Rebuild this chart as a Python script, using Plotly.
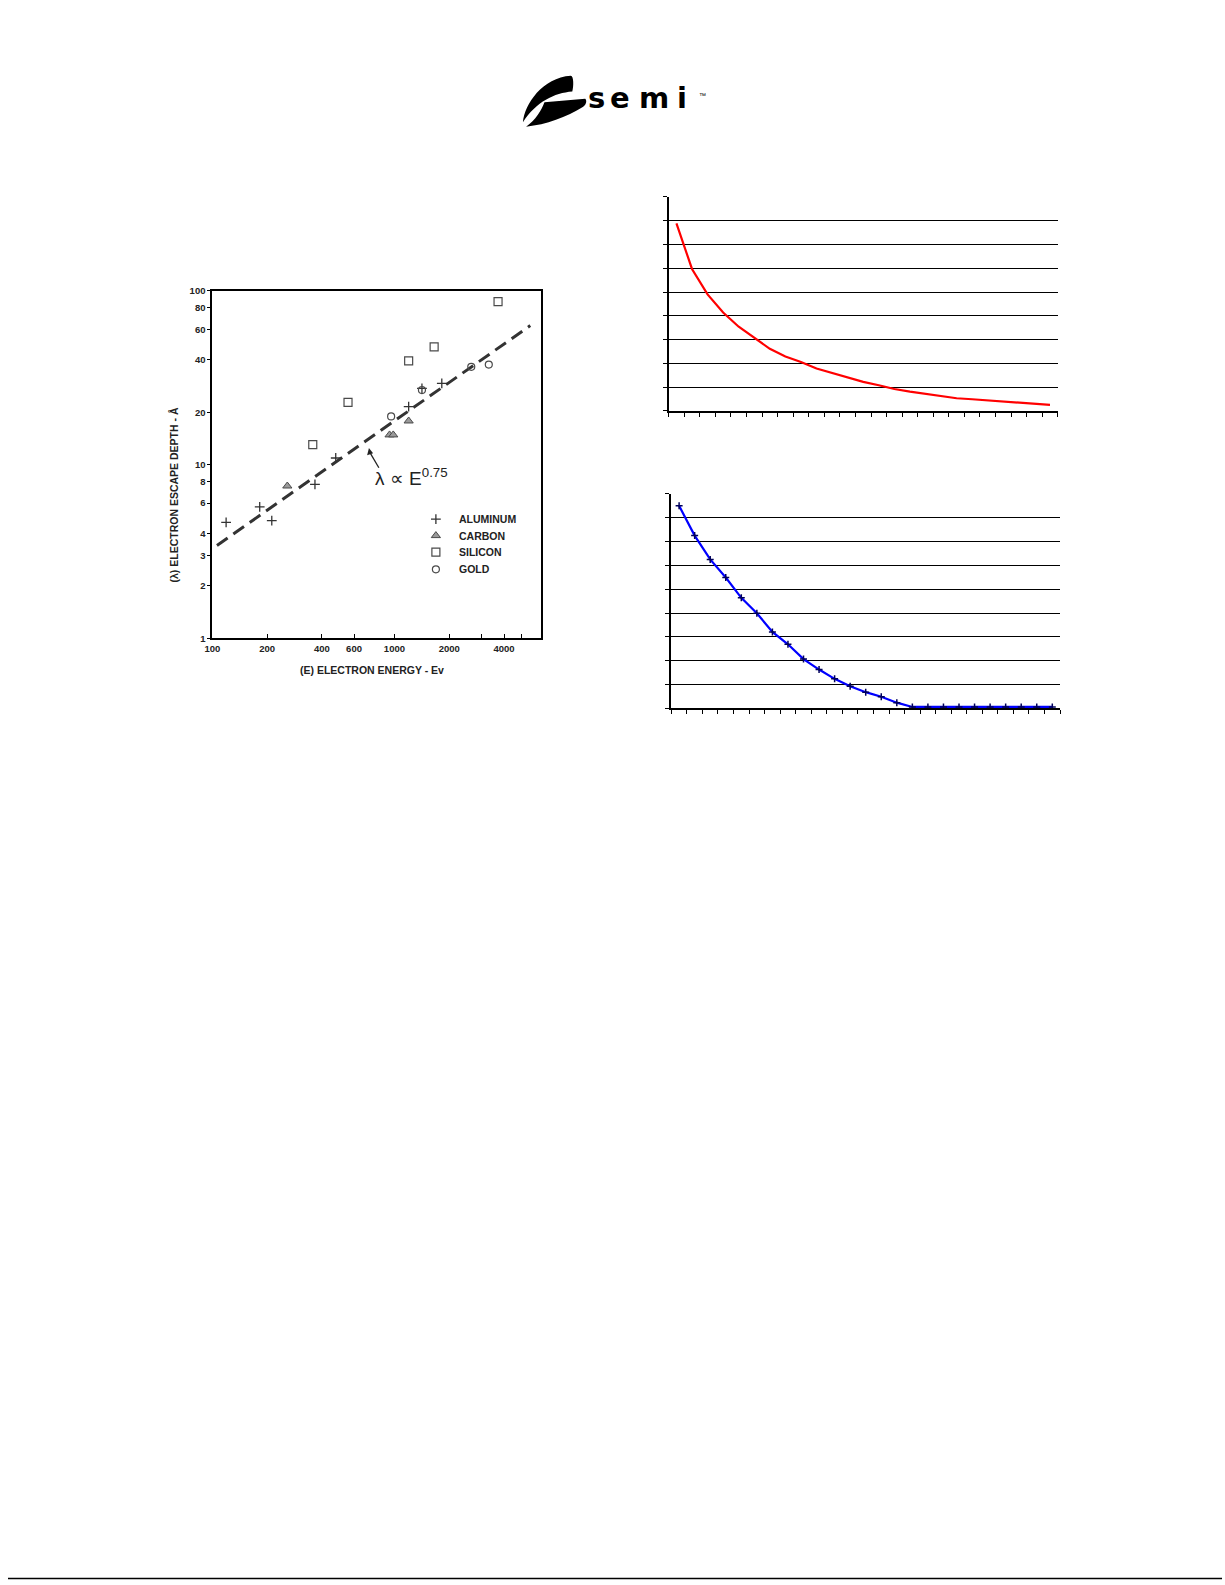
import plotly.graph_objects as go

W, H = 1225, 1585

# ---------------- Left chart data (log-log) ----------------
al_energy = [119, 182, 212, 366, 476, 1197, 1416, 1820]
al_depth = [4.64, 5.71, 4.75, 7.69, 10.9, 21.5, 27.4, 29.3]
c_energy = [258, 940, 985, 1197]
c_depth = [7.52, 14.8, 14.8, 17.8]
si_energy = [356, 556, 1197, 1652, 3707]
si_depth = [13.0, 22.8, 39.5, 47.5, 86.5]
au_energy = [959, 1416, 2642, 3298]
au_depth = [18.9, 26.8, 36.5, 37.6]
fit_energy = [106, 5570]
fit_depth = [3.42, 63]

legend_names = ["ALUMINUM", "CARBON", "SILICON", "GOLD"]

x_tickvals = [100, 200, 400, 600, 1000, 2000, 4000]
x_ticktext = ["100", "200", "400", "600", "1000", "2000", "4000"]
x_minor_ticks = [3000, 5000]
y_tickvals = [1, 2, 3, 4, 6, 8, 10, 20, 40, 60, 80, 100]
y_ticktext = ["1", "2", "3", "4", "6", "8", "10", "20", "40", "60", "80", "100"]

# ---------------- Right charts data ----------------
categories = list(range(1, 26))
red_values = [7.89, 5.97, 4.90, 4.14, 3.54, 3.07, 2.61, 2.29, 2.06, 1.78,
              1.60, 1.43, 1.22, 1.08, 0.92, 0.81, 0.71, 0.63, 0.53, 0.49,
              0.44, 0.40, 0.36, 0.32, 0.25]
blue_values = [8.50, 7.25, 6.25, 5.49, 4.64, 3.99, 3.21, 2.69, 2.07, 1.63,
               1.24, 0.93, 0.68, 0.49, 0.24, 0.06, 0.06, 0.06, 0.06, 0.06,
               0.06, 0.06, 0.06, 0.06, 0.06]


def px(x):
    return x / W


def py(y):
    return 1 - y / H


def path(cmds):
    out = []
    for c in cmds:
        if isinstance(c, str):
            out.append(c)
        else:
            out.append(f"{px(c[0]):.5f},{py(c[1]):.5f}")
    return " ".join(out)


fig = go.Figure()
mark_col = "#4a4a4a"
FAM = "Liberation Sans, Arial, sans-serif"
tick_font = dict(family=FAM, size=9.5, color="#222", weight=700)

marker_styles = [
    dict(symbol="cross-thin-open", size=7, color="#333", line=dict(color="#333", width=1.3)),
    dict(symbol="triangle-up", size=8, color="#9a9a9a", line=dict(color=mark_col, width=1)),
    dict(symbol="square-open", size=8, color=mark_col, line=dict(color=mark_col, width=1.2)),
    dict(symbol="circle-open", size=7, color=mark_col, line=dict(color=mark_col, width=1.2)),
]

fig.add_trace(go.Scatter(x=fit_energy, y=fit_depth, mode="lines",
                         line=dict(color="#333", width=3, dash="13px,7px"),
                         xaxis="x", yaxis="y", hoverinfo="skip"))
for name, ex, dy, ms in zip(legend_names, [al_energy, c_energy, si_energy, au_energy],
                            [al_depth, c_depth, si_depth, au_depth], marker_styles):
    fig.add_trace(go.Scatter(x=ex, y=dy, mode="markers", name=name, marker=ms,
                             xaxis="x", yaxis="y"))

# legend key (drawn in a page-pixel overlay axis)
legend_x_sym = 430.7
legend_x_text = 451.7
legend_rows = [516.7, 533.3, 550.0, 567.3]
for name, ry, ms in zip(legend_names, legend_rows, marker_styles):
    fig.add_trace(go.Scatter(x=[legend_x_sym], y=[ry], mode="markers", marker=ms,
                             name=name, xaxis="x4", yaxis="y4", hoverinfo="skip"))

fig.add_trace(go.Scatter(x=categories, y=red_values, mode="lines",
                         line=dict(color="#ff0000", width=2.2),
                         xaxis="x2", yaxis="y2"))
fig.add_trace(go.Scatter(x=categories, y=blue_values, mode="lines+markers",
                         line=dict(color="#0000ff", width=2.2),
                         marker=dict(symbol="cross-thin-open", size=5, color="#00005a",
                                     line=dict(color="#00005a", width=1.5)),
                         xaxis="x3", yaxis="y3"))

boundaries = [c - 0.5 for c in categories] + [categories[-1] + 0.5]

right_x = dict(range=[0.5, 25.5], tickvals=boundaries, ticks="outside", ticklen=4,
               tickwidth=1.3, tickcolor="black", showticklabels=False, showline=True,
               linecolor="black", linewidth=2, showgrid=False, zeroline=False)
right_y = dict(range=[0, 9], dtick=1, tick0=0, ticks="outside", ticklen=4, tickwidth=1.3,
               tickcolor="black", showticklabels=False, showline=True, linecolor="black",
               linewidth=2, showgrid=True, gridcolor="black", gridwidth=1.3, zeroline=False)

fig.update_layout(
    width=W, height=H, margin=dict(l=0, r=0, t=0, b=0),
    paper_bgcolor="white", plot_bgcolor="rgba(0,0,0,0)",
    showlegend=False,
    xaxis=dict(type="log", range=[2, 3.806], domain=[px(205.7), px(536.7)],
               anchor="y", tickvals=x_tickvals, ticktext=x_ticktext,
               ticks="inside", ticklen=4, tickcolor="black", tickfont=tick_font,
               minor=dict(tickvals=x_minor_ticks, ticks="inside", ticklen=4,
                          tickcolor="black", showgrid=False),
               showline=True, mirror=True, linecolor="black", linewidth=2,
               showgrid=False, zeroline=False),
    yaxis=dict(type="log", range=[0, 2], domain=[py(636.7), py(286.7)],
               anchor="x", tickvals=y_tickvals, ticktext=y_ticktext,
               ticks="outside", ticklen=3, tickcolor="black", tickfont=tick_font,
               showline=True, mirror=True, linecolor="black", linewidth=2,
               showgrid=False, zeroline=False),
    xaxis2=dict(domain=[px(665), px(1056.7)], anchor="y2", **right_x),
    yaxis2=dict(domain=[py(407.7), py(192.3)], anchor="x2", **right_y),
    xaxis3=dict(domain=[px(667.7), px(1059)], anchor="y3", **right_x),
    yaxis3=dict(domain=[py(707.3), py(491.3)], anchor="x3", **right_y),
    xaxis4=dict(domain=[0, 1], range=[0, W], visible=False, anchor="y4", fixedrange=True),
    yaxis4=dict(domain=[0, 1], range=[H, 0], visible=False, anchor="x4", fixedrange=True),
)

label_font = dict(family=FAM, size=10.5, color="#222", weight=700)
annotations = [
    dict(text="(λ) ELECTRON ESCAPE DEPTH - Å", x=px(167), y=py(492), textangle=-90,
         showarrow=False, xref="paper", yref="paper", xanchor="center", yanchor="middle",
         font=label_font),
    dict(text="(E) ELECTRON ENERGY - Ev", x=px(366), y=py(669), showarrow=False,
         xref="paper", yref="paper", xanchor="center", yanchor="middle",
         font=label_font),
    dict(text="λ ∝ E<sup>0.75</sup>", x=px(367), y=py(474), showarrow=False,
         xref="paper", yref="paper", xanchor="left", yanchor="middle",
         font=dict(family=FAM, size=19, color="#222")),
]
for name, ry in zip(legend_names, legend_rows):
    annotations.append(dict(text=name, x=px(legend_x_text), y=py(ry), showarrow=False,
                            xref="paper", yref="paper", xanchor="left", yanchor="middle",
                            font=label_font))

logo_font = dict(family="DejaVu Sans, sans-serif", size=29, color="black", weight=700)
for letter, cx in [("s", 592), ("e", 616), ("m", 650), ("i", 678)]:
    annotations.append(dict(text=letter, x=px(cx), y=py(93), showarrow=False,
                            xref="paper", yref="paper", xanchor="center", yanchor="middle",
                            font=logo_font))
annotations.append(dict(text="™", x=px(699), y=py(90), showarrow=False,
                        xref="paper", yref="paper", xanchor="center", yanchor="middle",
                        font=dict(family=FAM, size=7, color="black")))

fig.update_layout(annotations=annotations)

swoosh_a = path(["M", (566.5, 70.3), "C", (569.5, 70.5), (569.5, 81), (568, 86),
                 "C", (550, 87.5), (532, 96), (518.3, 117),
                 "C", (520, 99), (538, 72), (566.5, 70.3), "Z"])
swoosh_b = path(["M", (540, 97), "L", (581, 93.5),
                 "C", (583, 95.5), (582, 99.5), (579, 101.5),
                 "C", (562, 112), (542, 119.5), (521.5, 121.5),
                 "C", (531, 115), (537, 105), (540, 97), "Z"])

arrow_head = path(["M", (363.3, 445), "L", (361.5, 452.5), "L", (367.5, 450.3), "Z"])

fig.update_layout(shapes=[
    dict(type="path", path=swoosh_a, xref="paper", yref="paper",
         fillcolor="black", line=dict(width=0)),
    dict(type="path", path=swoosh_b, xref="paper", yref="paper",
         fillcolor="black", line=dict(width=0)),
    dict(type="line", x0=px(373.3), y0=py(465), x1=px(364.5), y1=py(450),
         xref="paper", yref="paper", line=dict(color="#222", width=1.3)),
    dict(type="path", path=arrow_head, xref="paper", yref="paper",
         fillcolor="#222", line=dict(width=0)),
    dict(type="line", x0=0, x1=px(1222), y0=py(1583.5), y1=py(1583.5),
         xref="paper", yref="paper", line=dict(color="black", width=1.5)),
])

css_js = (
    "var st=document.createElement('style');"
    "st.textContent='html,body{margin:0;padding:0;overflow:hidden;height:1585px;}';"
    "document.head.appendChild(st);"
)
fig.write_html("out.html", config={"displayModeBar": False}, post_script=css_js)
